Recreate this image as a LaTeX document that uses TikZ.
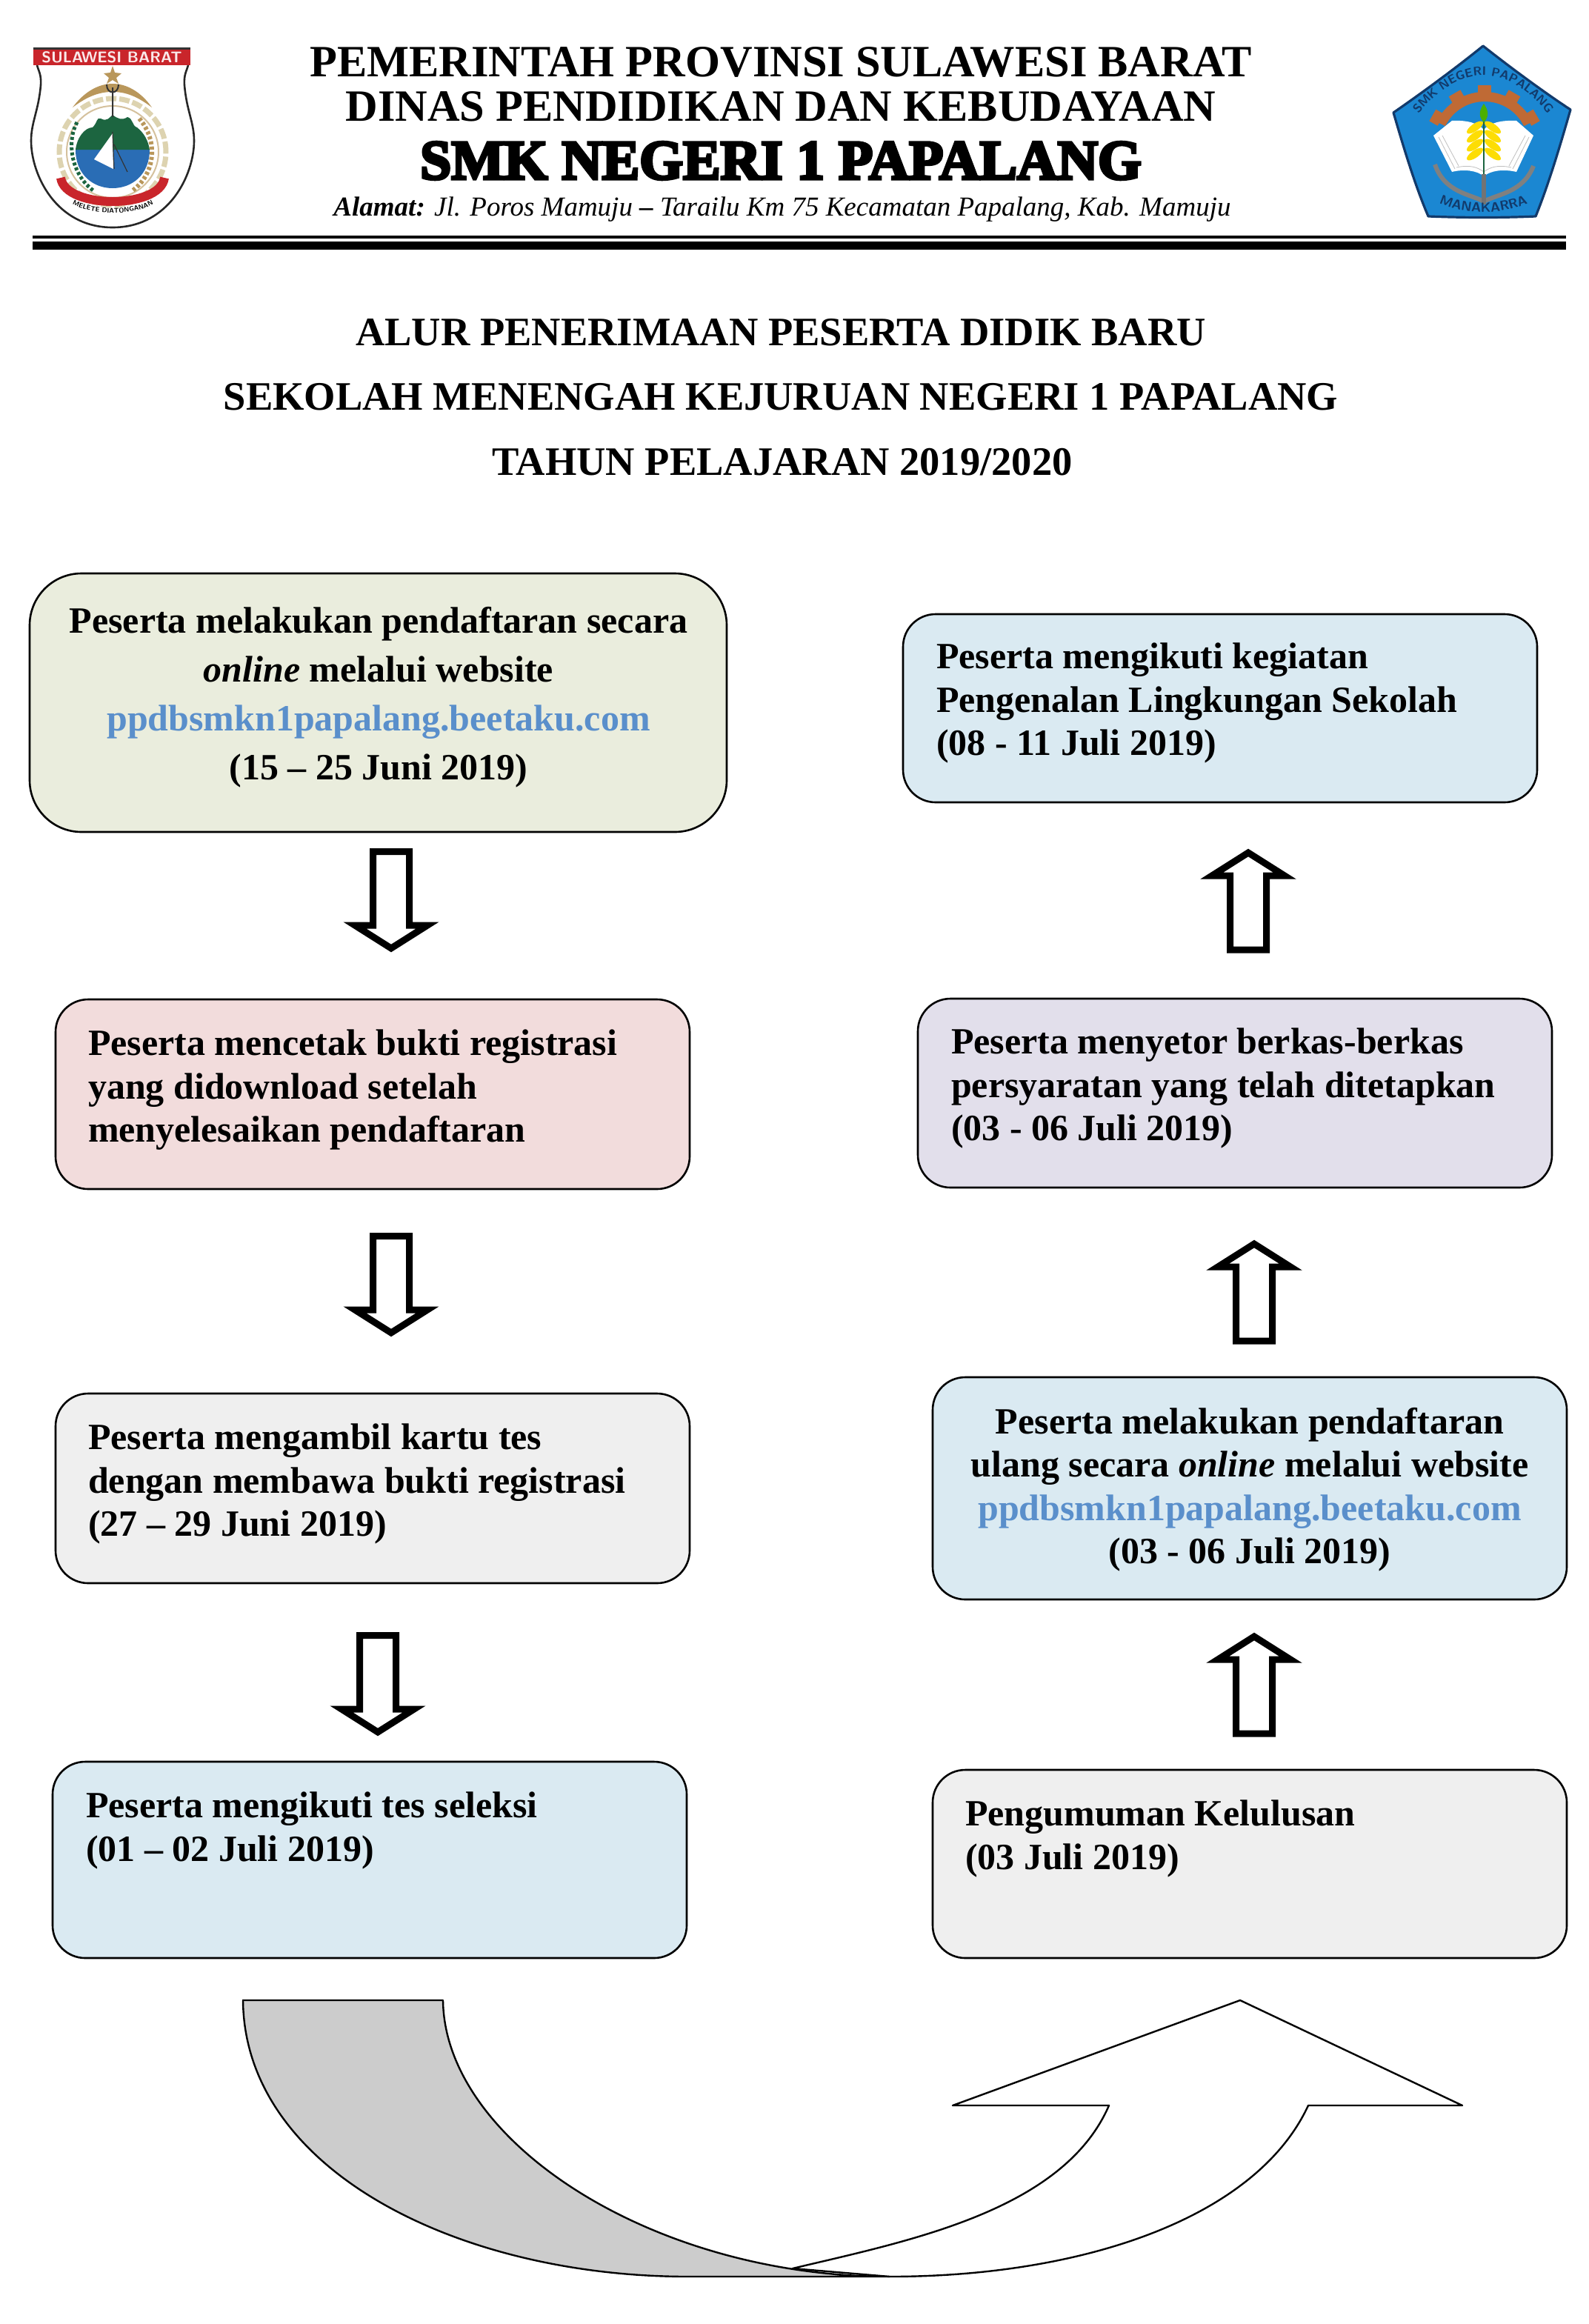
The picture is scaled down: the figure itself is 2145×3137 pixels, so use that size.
\documentclass[tikz,border=0pt]{standalone}
\usepackage{fontspec}
\usetikzlibrary{decorations.text,calc}
\setmainfont{Liberation Serif}
\newfontfamily\smkfont[FakeBold=5]{Liberation Serif}
\definecolor{cOlive}{HTML}{EAEDDD}
\definecolor{cPink}{HTML}{F2DCDC}
\definecolor{cGrey}{HTML}{EFEFEF}
\definecolor{cBlue}{HTML}{DAEAF2}
\definecolor{cLilac}{HTML}{E2DFEB}
\definecolor{cLink}{HTML}{5A8FCB}
\definecolor{cRed}{HTML}{C9252B}
\definecolor{cGreen}{HTML}{1C6540}
\definecolor{cSea}{HTML}{2A6DB5}
\definecolor{cTan}{HTML}{B9975B}
\definecolor{cCream}{HTML}{DDD3B0}
\definecolor{cSky}{HTML}{1B87D2}
\definecolor{cNavy}{HTML}{123A6B}
\definecolor{cGear}{HTML}{BF6A35}
\newcommand\fs[2]{\fontsize{#1}{#2}\selectfont}
\newcommand\dnarrow[2]{\draw[blockarrow] (#1-24.5,#2+4.5) -- (#1+24.5,#2+4.5) -- (#1+24.5,#2+104) -- (#1+49,#2+104) -- (#1,#2+135) -- (#1-49,#2+104) -- (#1-24.5,#2+104) -- cycle;}
\newcommand\uparrowbox[2]{\draw[blockarrow] (#1-24.5,#2+137) -- (#1+24.5,#2+137) -- (#1+24.5,#2+37) -- (#1+49,#2+37) -- (#1,#2+6) -- (#1-49,#2+37) -- (#1-24.5,#2+37) -- cycle;}
\tikzset{
  x=0.5pt,y=-0.5pt,
  roundbox/.style={draw=black,line width=1.3pt,rounded corners=22pt,inner sep=0pt,outer sep=0pt},
  txt/.style={inner sep=0pt,outer sep=0pt,font=\fs{25}{29.2}\bfseries,align=left},
  txtc/.style={txt,align=center},
  head/.style={inner sep=0pt,outer sep=0pt,font=\fs{30.2}{32}\bfseries},
  title/.style={inner sep=0pt,outer sep=0pt,font=\fs{27.25}{30}\bfseries},
  blockarrow/.style={draw=black,line width=4.5pt,fill=white,miter limit=10},
  bandline/.style={draw=black,line width=1.2pt,line join=round},
}
\begin{document}
\begin{tikzpicture}
\useasboundingbox[fill=white] (0,0) rectangle (2145,3137);

% --- left emblem
\fill[white] (50,88) .. controls (52,96) and (56,100) .. (55,115) .. controls (52,150) and (42,165) .. (42,190) .. controls (42,235) and (75,307) .. (152,307) .. controls (229,307) and (262,235) .. (262,190) .. controls (262,165) and (252,150) .. (249,115) .. controls (248,100) and (252,96) .. (254,88) -- cycle;
\draw[black!85,line width=1.3pt] (50,88) .. controls (52,96) and (56,100) .. (55,115) .. controls (52,150) and (42,165) .. (42,190) .. controls (42,235) and (75,307) .. (152,307) .. controls (229,307) and (262,235) .. (262,190) .. controls (262,165) and (252,150) .. (249,115) .. controls (248,100) and (252,96) .. (254,88);
\fill[cRed] (45,64) rectangle (257,88);
\fill[black!80] (45,64) rectangle (257,67);
\node[inner sep=0pt,font=\fontsize{10.4}{12}\selectfont\bfseries\sffamily,text=white!90!cRed] (lname) at (151,77) {SULAWESI BARAT};
\draw[cCream,line width=3.5pt,dash pattern=on 7pt off 2pt] (152,205) circle[radius=36pt];
\draw[cTan!60,line width=1pt] (152,205) circle[radius=31pt];
\fill[cSea] (102,202) .. controls (102,235) and (125,254) .. (152,254) .. controls (179,254) and (202,235) .. (202,202) -- cycle;
\fill[cGreen] (102,202) .. controls (104,185) and (115,172) .. (125,172) .. controls (132,165) and (130,158) .. (136,160) .. controls (145,165) and (148,158) .. (152,155) .. controls (158,160) and (165,163) .. (172,158) .. controls (180,160) and (178,170) .. (185,172) .. controls (195,180) and (200,190) .. (202,202) -- cycle;
\fill[white] (152,180) -- (127,215) -- (153,228) -- cycle;
\draw[black!80,line width=.6pt] (152,178) -- (154,228) (154,195) -- (172,232);
\draw[cGreen,line width=2.5pt,dash pattern=on 2pt off 1.5pt] (104,165) .. controls (90,190) and (95,235) .. (127,258);
\draw[cTan,line width=3pt,dash pattern=on 2pt off 1.5pt] (188,160) .. controls (214,190) and (210,235) .. (178,258);
\fill[cTan] (98,145) .. controls (115,122) and (135,113) .. (152,113) .. controls (169,113) and (189,122) .. (205,145) .. controls (185,130) and (170,124) .. (152,124) .. controls (134,124) and (118,130) .. (98,145) -- cycle;
\draw[black!80,line width=1pt] (152,118) -- (152,158) (144,114) .. controls (144,128) and (160,128) .. (160,114);
\fill[cTan] (152,89) -- (155,98) -- (164,99) -- (157,105) -- (160,113) -- (152,108) -- (144,113) -- (147,105) -- (140,99) -- (149,98) -- cycle;
\draw[cRed,line width=6pt] (82,240) .. controls (85,262) and (120,272) .. (152,272) .. controls (184,272) and (219,262) .. (222,240);
\path[postaction={decorate},decoration={text along path,text align=center,text={|\fontsize{4.5}{6}\selectfont\bfseries\sffamily|MELETE DIATONGANAN}}] (90,270) .. controls (115,293) and (190,293) .. (215,270);

% --- right emblem
\fill[cSky,draw=cNavy,line width=1.6pt,line join=round] (2002,62) .. controls (2040,92) and (2085,125) .. (2120,148) .. controls (2105,200) and (2090,250) .. (2073,292) .. controls (2030,294) and (1975,294) .. (1928,292) .. controls (1910,250) and (1895,200) .. (1881,152) .. controls (1920,125) and (1965,92) .. (2002,62) -- cycle;
\begin{scope}[shift={(2004,196)},x=0.5pt,y=0.5pt]
  \fill[cGear] (154:72) arc[start angle=154,end angle=26,radius=72] -- (26:59) arc[start angle=26,end angle=154,radius=59] -- cycle;
  \foreach \a in {30,60,90,120,150} {\fill[cGear,rotate=\a] (68,-9) rectangle (81,9);}
\end{scope}
\fill[white] (1935,183) -- (1960,163) .. controls (1980,162) and (1995,166) .. (2003,175) .. controls (2011,166) and (2026,162) .. (2047,163) -- (2070,183) -- (2047,232) .. controls (2030,228) and (2012,230) .. (2003,238) .. controls (1994,230) and (1976,228) .. (1960,232) -- cycle;
\draw[black!25,line width=.4pt] (1942,185) -- (1964,228) (1947,183) -- (1969,224) (2064,185) -- (2042,228) (2059,183) -- (2037,224) (1966,226) .. controls (1985,222) and (1995,226) .. (2003,232) .. controls (2011,226) and (2021,222) .. (2040,226);
\draw[cGreen,line width=1.4pt] (2003,145) -- (2003,240);
\foreach \yy in {172,184,196,208} {
  \fill[yellow!80!orange,rotate around={-35:(2015,\yy)}] (2015,\yy) ellipse[x radius=6.5pt,y radius=2.5pt];
  \fill[yellow!80!orange,rotate around={35:(1991,\yy)}] (1991,\yy) ellipse[x radius=6.5pt,y radius=2.5pt];
}
\fill[green!55!black!70!yellow] (2003,140) .. controls (2010,150) and (2010,158) .. (2003,165) .. controls (1996,158) and (1996,150) .. (2003,140) -- cycle;
\draw[black!50,line width=3pt] (1937,222) .. controls (1950,260) and (1985,262) .. (2003,272) .. controls (2021,262) and (2056,260) .. (2070,224);
\draw[black!55,line width=3pt] (2003,235) -- (2003,276);
\path[postaction={decorate},decoration={text along path,text align=center,text color=cNavy,text={|\fontsize{8.3}{10}\selectfont\bfseries\sffamily|SMK NEGERI PAPALANG}}] (1908,163) .. controls (1940,118) and (1975,102) .. (2002,102) .. controls (2030,102) and (2065,118) .. (2096,163);
\path[postaction={decorate},decoration={text along path,text align=center,text color=cNavy,text={|\fontsize{9}{12}\selectfont\bfseries\sffamily|MANAKARRA}}] (1934,270) .. controls (1975,292) and (2030,292) .. (2071,270);

% --- letterhead
\node[head] (h1) at (1054,84) {PEMERINTAH PROVINSI SULAWESI BARAT};
\node[head] (h2) at (1054,144) {DINAS PENDIDIKAN DAN KEBUDAYAAN};
\node[inner sep=0pt,font=\smkfont\fontsize{37.8}{40}\selectfont\bfseries] (h3) at (1054,217) {SMK NEGERI 1 PAPALANG};
\node[inner sep=0pt,font=\fs{18.5}{22}\itshape] (h4) at (1056,283) {\textbf{Alamat:} Jl. Poros Mamuju \textbf{--} Tarailu Km 75 Kecamatan Papalang, Kab. Mamuju};
\fill[black] (44,318) rectangle (2114,322);
\fill[black] (44,326) rectangle (2114,337);

% --- title
\node[title] (t1) at (1054,449) {ALUR PENERIMAAN PESERTA DIDIK BARU};
\node[title] (t2) at (1054,536) {SEKOLAH MENENGAH KEJURUAN NEGERI 1 PAPALANG};
\node[title] (t3) at (1056,624) {TAHUN PELAJARAN 2019/2020};

% --- boxes
\node[roundbox,fill=cOlive,minimum width=470.5pt,minimum height=174.5pt,rounded corners=35pt] (b1) at (510.5,948.5) {};
\node[roundbox,fill=cPink,minimum width=428pt,minimum height=128pt] (b2) at (503,1477) {};
\node[roundbox,fill=cGrey,minimum width=428pt,minimum height=128pt] (b3) at (503,2009) {};
\node[roundbox,fill=cBlue,minimum width=428pt,minimum height=132.5pt] (b4) at (499,2510.5) {};
\node[roundbox,fill=cBlue,minimum width=428pt,minimum height=127pt] (r1) at (1647,956) {};
\node[roundbox,fill=cLilac,minimum width=428pt,minimum height=127.5pt] (r2) at (1667,1475.5) {};
\node[roundbox,fill=cBlue,minimum width=428pt,minimum height=150pt] (r3) at (1687,2009) {};
\node[roundbox,fill=cGrey,minimum width=428pt,minimum height=127pt] (r4) at (1687,2516) {};

% --- box texts
\node[txtc,font=\fs{25}{33}\bfseries,anchor=north] (b1t) at (511,819) {Peserta melakukan pendaftaran secara\\\textit{online} melalui website\\\textcolor{cLink}{ppdbsmkn1papalang.beetaku.com}\\(15 -- 25 Juni 2019)};
\node[txt,anchor=north west] (b2t) at (119,1390) {Peserta mencetak bukti registrasi\\yang didownload setelah\\menyelesaikan pendaftaran};
\node[txt,anchor=north west] (b3t) at (119,1922) {Peserta mengambil kartu tes\\dengan membawa bukti registrasi\\(27 -- 29 Juni 2019)};
\node[txt,anchor=north west] (b4t) at (116,2419) {Peserta mengikuti tes seleksi\\(01 -- 02 Juli 2019)};
\node[txt,anchor=north west] (r1t) at (1264,868) {Peserta mengikuti kegiatan\\Pengenalan Lingkungan Sekolah\\(08 - 11 Juli 2019)};
\node[txt,anchor=north west] (r2t) at (1284,1388) {Peserta menyetor berkas-berkas\\persyaratan yang telah ditetapkan\\(03 - 06 Juli 2019)};
\node[txtc,anchor=north] (r3t) at (1687,1900) {Peserta melakukan pendaftaran\\ulang secara \textit{online} melalui website\\\textcolor{cLink}{ppdbsmkn1papalang.beetaku.com}\\(03 - 06 Juli 2019)};
\node[txt,anchor=north west] (r4t) at (1303,2430) {Pengumuman Kelulusan\\(03 Juli 2019)};

% --- block arrows
\dnarrow{528}{1145}
\dnarrow{528}{1664}
\dnarrow{510}{2203}
\uparrowbox{1685}{1145}
\uparrowbox{1693}{1673}
\uparrowbox{1693}{2203}

% --- curved arrow
\draw[bandline,fill=white] (1201,3073) .. controls (1460,3073) and (1695,2995) .. (1766,2842) -- (1974,2842) -- (1674,2700) -- (1286,2842) -- (1497,2842) .. controls (1435,2985) and (1225,3025) .. (1070,3062) -- cycle;
\draw[bandline,fill=black!20] (328,2700) .. controls (330,2930) and (620,3073) .. (929,3073) -- (1201,3073) .. controls (880,3073) and (600,2890) .. (598,2700) -- cycle;
\end{tikzpicture}
\end{document}
